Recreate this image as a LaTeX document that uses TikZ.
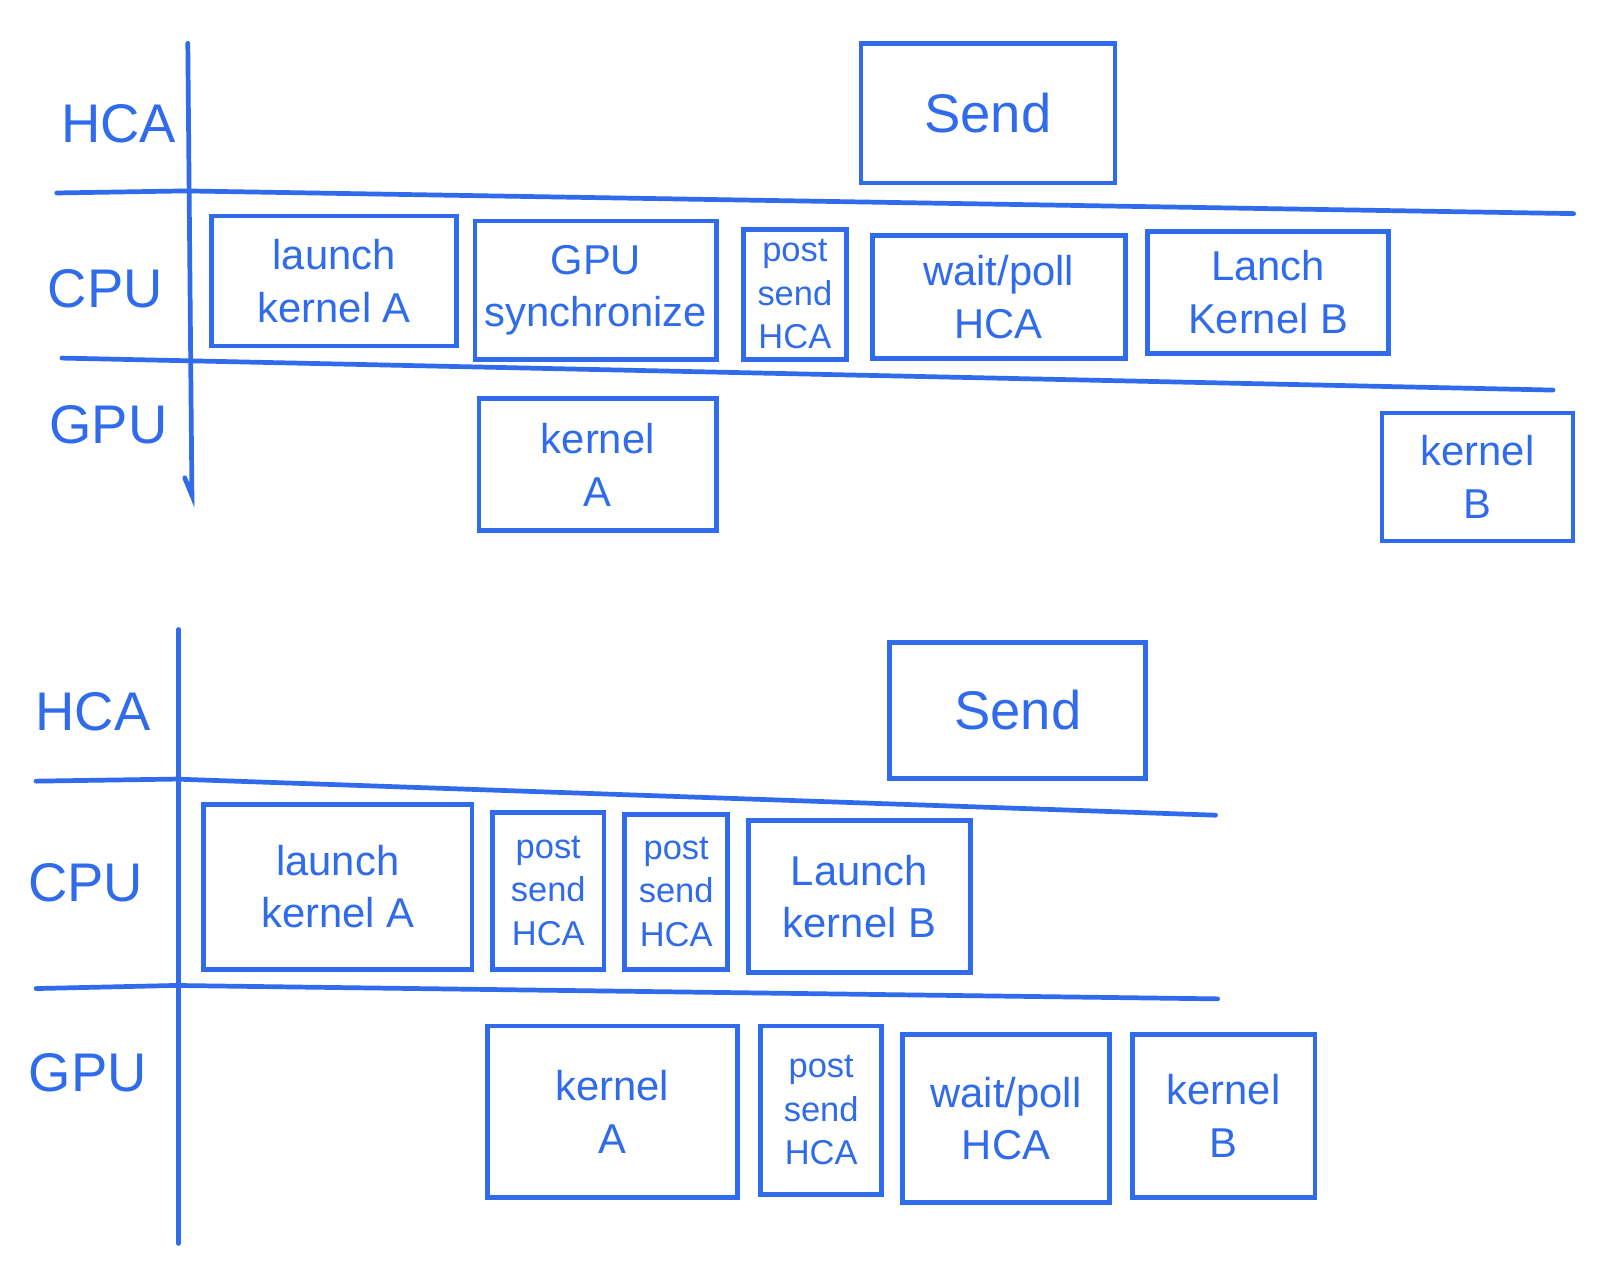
\documentclass[tikz,border=0pt]{standalone}
\usepackage{fontspec}
\setmainfont{Liberation Sans}
\definecolor{hb}{HTML}{2F6BEA}
\begin{document}
\begin{tikzpicture}[x=0.01cm,y=-0.01cm,
  box/.style={draw=hb, line width=1.3pt, anchor=north west, align=center, inner sep=2pt, text=hb, font=\fontsize{11.5}{14.5}\selectfont},
  sbox/.style={box, font=\fontsize{9.5}{12}\selectfont},
  bbox/.style={box, font=\fontsize{15}{18}\selectfont},
  lab/.style={text=hb, font=\fontsize{15}{18}\selectfont},
  rule/.style={draw=hb, line width=1.3pt, line cap=round}]
\useasboundingbox[fill=white] (0,0) rectangle (1568,1232);

% ---------- top diagram ----------
\draw[rule] (182,42) -- (186,480) -- (179,463);
\draw[rule] (55,187) -- (180,185) -- (1525,207);
\draw[rule] (60,347) -- (1505,378);
\node[lab] (hca1) at (115,120) {HCA};
\node[lab] (cpu1) at (102,280) {CPU};
\node[lab] (gpu1) at (105,412) {GPU};

\node[bbox, minimum width=2.46cm, minimum height=1.35cm] (send1) at (832,40) {Send};
\node[box, minimum width=2.37cm, minimum height=1.26cm] (la1) at (203,207) {launch\\kernel A};
\node[box, minimum width=2.34cm, minimum height=1.34cm] (gs1) at (458,212) {GPU\\synchronize};
\node[sbox, minimum width=1.00cm, minimum height=1.26cm] (ps1) at (718,220) {post\\send\\HCA};
\node[box, minimum width=2.45cm, minimum height=1.19cm] (wp1) at (843,226) {wait/poll\\HCA};
\node[box, minimum width=2.33cm, minimum height=1.18cm] (lb1) at (1110,222) {Lanch\\Kernel B};
\node[box, minimum width=2.30cm, minimum height=1.28cm] (ka1) at (462,384) {kernel\\A};
\node[box, minimum width=1.85cm, minimum height=1.24cm] (kb1) at (1337,398) {kernel\\B};

% ---------- bottom diagram ----------
\draw[rule] (173,610) -- (173,1205);
\draw[rule] (35,757) -- (170,755) -- (1178,790);
\draw[rule] (35,958) -- (170,955) -- (1180,968);
\node[lab] (hca2) at (90,690) {HCA};
\node[lab] (cpu2) at (83,855) {CPU};
\node[lab] (gpu2) at (85,1040) {GPU};

\node[bbox, minimum width=2.48cm, minimum height=1.32cm] (send2) at (860,620) {Send};
\node[box, minimum width=2.60cm, minimum height=1.60cm] (la2) at (195,777) {launch\\kernel A};
\node[sbox, minimum width=1.08cm, minimum height=1.52cm] (ps2) at (475,785) {post\\send\\HCA};
\node[sbox, minimum width=1.00cm, minimum height=1.50cm] (ps3) at (603,787) {post\\send\\HCA};
\node[box, minimum width=2.15cm, minimum height=1.47cm] (lb2) at (723,793) {Launch\\kernel B};
\node[box, minimum width=2.42cm, minimum height=1.66cm] (ka2) at (470,992) {kernel\\A};
\node[sbox, minimum width=1.17cm, minimum height=1.63cm] (ps4) at (735,992) {post\\send\\HCA};
\node[box, minimum width=2.01cm, minimum height=1.63cm] (wp2) at (872,1000) {wait/poll\\HCA};
\node[box, minimum width=1.77cm, minimum height=1.58cm] (kb2) at (1095,1000) {kernel\\B};
\end{tikzpicture}
\end{document}
